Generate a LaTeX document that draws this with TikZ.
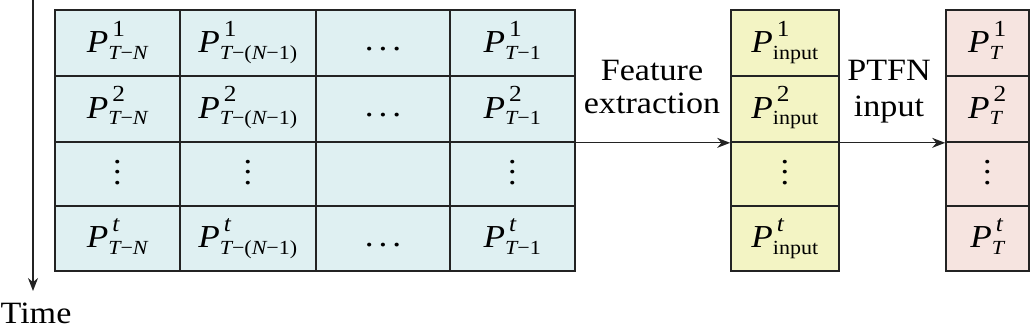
\documentclass[tikz,border=0pt]{standalone}
\usepackage{amsmath}
\usepackage{fontspec}
\setmainfont[FakeStretch=1.1]{Liberation Serif}
\usetikzlibrary{arrows.meta}
\DeclareMathSizes{32}{32}{20}{15}
\newcommand{\mi}[1]{\textit{#1}}
\newcommand{\mr}[1]{\textup{#1}}
\newcommand{\sps}[1]{\kern4pt\raisebox{4pt}{\fontsize{23}{23}\selectfont #1}}
\newcommand{\vdts}{\vbox{\baselineskip=10.5pt\lineskiplimit=-20pt\hbox{.}\hbox{.}\hbox{.}}}
\newcommand{\hdts}{.\hspace{5pt}.\hspace{5pt}.}
\definecolor{cblue}{RGB}{223,240,242}
\definecolor{cyel}{RGB}{243,244,196}
\definecolor{cpink}{RGB}{246,228,224}
\definecolor{cline}{RGB}{35,35,35}
\tikzset{
  cell/.style={draw=cline, line width=1.7pt, inner sep=0pt},
  bcell/.style={cell, fill=cblue},
  ycell/.style={cell, fill=cyel, minimum width=108pt},
  pcell/.style={cell, fill=cpink, minimum width=83pt},
  txt/.style={font=\fontsize{32}{36}\selectfont, inner sep=0pt, anchor=base},
  dts/.style={font=\fontsize{31}{36}\selectfont, inner sep=0pt},
  lbl/.style={align=center, inner sep=0pt},
  arr/.style={draw=cline, line width=1.2pt, -{Stealth[length=13pt,width=10pt]}}
}
\begin{document}
\begin{tikzpicture}[x=1pt,y=-1pt]
\useasboundingbox (0,0) rectangle (1031,336);
\foreach \r/\y/\h in {1/43/66, 2/109/66, 3/174/64, 4/238.5/65}{
  \foreach \c/\x/\w in {1/117.5/125, 2/248/136, 3/383/134, 4/512.5/125}{
    \node[bcell, minimum width=\w pt, minimum height=\h pt] (c\r\c) at (\x,\y) {};
  }
  \node[ycell, minimum height=\h pt] (y\r) at (785,\y) {};
  \node[pcell, minimum height=\h pt] (p\r) at (987.5,\y) {};
}
% texts
\node[txt] at ([yshift=-10pt]c11.center) {$\mi{P}^{\sps{1}}_{\mi{T}\mr{−}\mi{N}}$};
\node[txt] at ([yshift=-10pt]c12.center) {$\mi{P}^{\sps{1}}_{\mi{T}\mr{−(}\mi{N}\mr{−1)}}$};
\node[txt] at ([yshift=-8pt]c13.center) {\hdts};
\node[txt] at ([yshift=-10pt]c14.center) {$\mi{P}^{\sps{1}}_{\mi{T}\mr{−1}}$};
\node[txt] at ([yshift=-9.5pt]c21.center) {$\mi{P}^{\sps{2}}_{\mi{T}\mr{−}\mi{N}}$};
\node[txt] at ([yshift=-9.5pt]c22.center) {$\mi{P}^{\sps{2}}_{\mi{T}\mr{−(}\mi{N}\mr{−1)}}$};
\node[txt] at ([yshift=-8pt]c23.center) {\hdts};
\node[txt] at ([yshift=-9.5pt]c24.center) {$\mi{P}^{\sps{2}}_{\mi{T}\mr{−1}}$};
\node[dts] at ([yshift=1.5pt]c31.center) {\vdts};
\node[dts] at ([yshift=1.5pt]c32.center) {\vdts};
\node[dts] at ([yshift=1.5pt]c34.center) {\vdts};
\node[txt] at ([yshift=-9.5pt]c41.center) {$\mi{P}^{\sps{\mi{t}}}_{\mi{T}\mr{−}\mi{N}}$};
\node[txt] at ([yshift=-9.5pt]c42.center) {$\mi{P}^{\sps{\mi{t}}}_{\mi{T}\mr{−(}\mi{N}\mr{−1)}}$};
\node[txt] at ([yshift=-8pt]c43.center) {\hdts};
\node[txt] at ([yshift=-9.5pt]c44.center) {$\mi{P}^{\sps{\mi{t}}}_{\mi{T}\mr{−1}}$};
\node[txt] at ([yshift=-10pt]y1.center) {$\mi{P}^{\sps{1}}_{\mr{input}}$};
\node[txt] at ([yshift=-9.5pt]y2.center) {$\mi{P}^{\sps{2}}_{\mr{input}}$};
\node[dts] at ([yshift=1.5pt]y3.center) {\vdts};
\node[txt] at ([yshift=-9.5pt]y4.center) {$\mi{P}^{\sps{\mi{t}}}_{\mr{input}}$};
\node[txt] at ([yshift=-10pt]p1.center) {$\mi{P}^{\sps{1}}_{\mi{T}}$};
\node[txt] at ([yshift=-9.5pt]p2.center) {$\mi{P}^{\sps{2}}_{\mi{T}}$};
\node[dts] at ([yshift=1.5pt]p3.center) {\vdts};
\node[txt] at ([yshift=-9.5pt]p4.center) {$\mi{P}^{\sps{\mi{t}}}_{\mi{T}}$};
% connectors
\draw[arr] (c24.south east) -- (y2.south west);
\draw[arr] (y2.south east) -- (p2.south west);
\node[lbl, font=\fontsize{31}{33}\selectfont] (fe) at (652,87.3) {Feature\\extraction};
\node[lbl, font=\fontsize{31}{36}\selectfont] (pt) at (889,92) {PTFN\\input};
% time axis
\node[lbl, anchor=base, font=\fontsize{31}{33}\selectfont] (time) at (36,324) {Time};
\coordinate (ts) at (33,0);
\coordinate (te) at (33,291);
\draw[arr] (ts) -- (te);
\end{tikzpicture}
\end{document}
